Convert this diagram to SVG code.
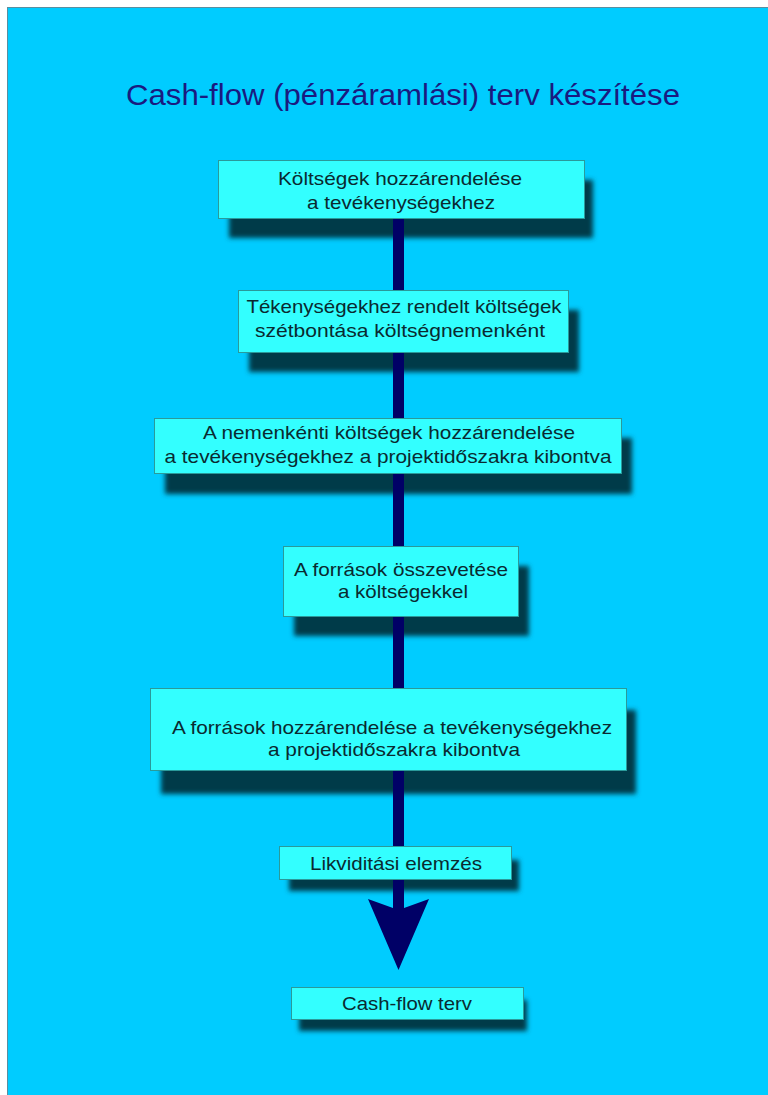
<svg xmlns="http://www.w3.org/2000/svg" width="768" height="1095" viewBox="0 0 768 1095">
<style>
.box{fill:#33ffff;stroke:#2a9a9a;stroke-width:1}
.sh{fill:#003a4a;filter:url(#blur)}
.t{font-family:"Liberation Sans",Arial,sans-serif;font-size:19px;fill:#0a2a30;text-anchor:middle}
.title{font-family:"Liberation Sans",Arial,sans-serif;font-size:29px;fill:#1a1a80;text-anchor:middle}
</style>
<defs>
<filter id="blur" x="-10%" y="-30%" width="120%" height="160%"><feGaussianBlur stdDeviation="2.5"/></filter>
</defs>
<rect x="0" y="0" width="768" height="1095" fill="#ffffff"/>
<rect x="7.5" y="7.5" width="761" height="1090" fill="#00ccff" stroke="#5a8fa0" stroke-width="1"/>
<text class="title" x="403" y="105" textLength="554" lengthAdjust="spacingAndGlyphs">Cash-flow (pénzáramlási) terv készítése</text>
<g id="shadows">
<rect class="sh" x="229" y="180" width="364" height="58"/>
<rect class="sh" x="249" y="310" width="330" height="62"/>
<rect class="sh" x="165" y="438" width="467" height="56"/>
<rect class="sh" x="294" y="566" width="235" height="70"/>
<rect class="sh" x="161" y="710" width="475" height="84"/>
<rect class="sh" x="289" y="860" width="230" height="31"/>
<rect class="sh" x="299" y="1000" width="228" height="31"/>
</g>
<g id="connectors">
<rect x="393" y="215" width="11" height="700" fill="#000066"/>
<path d="M368,899 L398.5,910 L429,899 L398.5,970 Z" fill="#000066"/>
</g>
<g id="n1"><rect class="box" x="218.5" y="160.5" width="366" height="58"/>
<text class="t" x="400" y="185" textLength="244" lengthAdjust="spacingAndGlyphs">Költségek hozzárendelése</text><text class="t" x="401" y="209" textLength="188" lengthAdjust="spacingAndGlyphs">a tevékenységekhez</text></g>
<g id="n2"><rect class="box" x="238.5" y="290.5" width="330" height="62"/>
<text class="t" x="404" y="313" textLength="315" lengthAdjust="spacingAndGlyphs">Tékenységekhez rendelt költségek</text><text class="t" x="400" y="337" textLength="290" lengthAdjust="spacingAndGlyphs">szétbontása költségnemenként</text></g>
<g id="n3"><rect class="box" x="154.5" y="418.5" width="467" height="55"/>
<text class="t" x="389" y="439" textLength="372" lengthAdjust="spacingAndGlyphs">A nemenkénti költségek hozzárendelése</text><text class="t" x="388" y="463" textLength="447" lengthAdjust="spacingAndGlyphs">a tevékenységekhez a projektidőszakra kibontva</text></g>
<g id="n4"><rect class="box" x="283.5" y="546.5" width="235" height="70"/>
<text class="t" x="401" y="576" textLength="214" lengthAdjust="spacingAndGlyphs">A források összevetése</text><text class="t" x="403" y="598" textLength="130" lengthAdjust="spacingAndGlyphs">a költségekkel</text></g>
<g id="n5"><rect class="box" x="150.5" y="688.5" width="476" height="82"/>
<text class="t" x="392" y="734" textLength="440" lengthAdjust="spacingAndGlyphs">A források hozzárendelése a tevékenységekhez</text><text class="t" x="394" y="756" textLength="252" lengthAdjust="spacingAndGlyphs">a projektidőszakra kibontva</text></g>
<g id="n6"><rect class="box" x="279.5" y="846.5" width="232" height="33"/>
<text class="t" x="396" y="870" textLength="172" lengthAdjust="spacingAndGlyphs">Likviditási elemzés</text></g>
<g id="n7"><rect class="box" x="291.5" y="987.5" width="232" height="32"/>
<text class="t" x="407" y="1010" textLength="130" lengthAdjust="spacingAndGlyphs">Cash-flow terv</text></g>
</svg>
